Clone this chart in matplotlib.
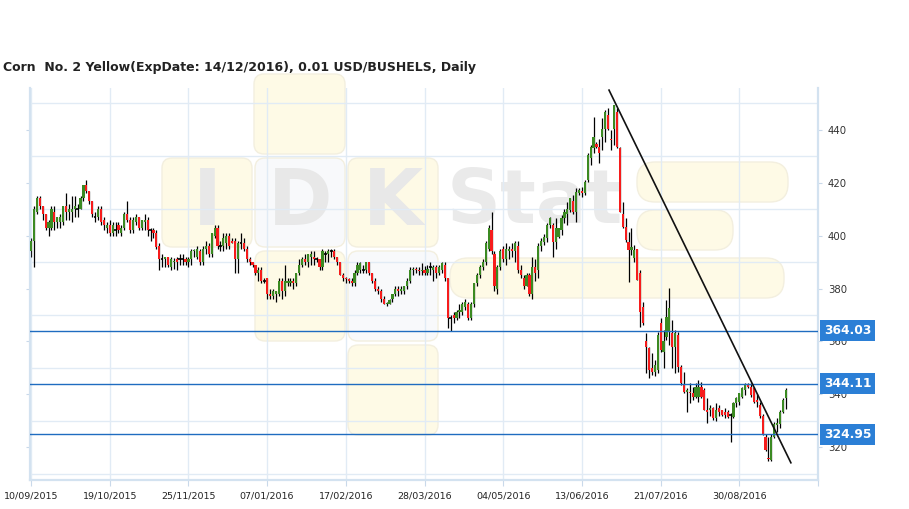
import numpy as np
import matplotlib.pyplot as plt
from matplotlib.patches import FancyBboxPatch

title = "Corn  No. 2 Yellow(ExpDate: 14/12/2016), 0.01 USD/BUSHELS, Daily"
date_labels = ["10/09/2015", "19/10/2015", "25/11/2015", "07/01/2016", "17/02/2016",
               "28/03/2016", "04/05/2016", "13/06/2016", "21/07/2016", "30/08/2016"]
bars_per_label = 27

# daily candles
opens = [394, 398, 409, 414, 411, 408, 403, 403, 409, 405,
         405, 405, 411, 409, 409, 410, 410, 410, 414, 419,
         417, 413, 407, 407, 410, 406, 403, 404, 401, 402,
         404, 401, 403, 408, 406, 402, 405, 407, 403, 405,
         406, 402, 402, 401, 396, 391, 391, 392, 388, 390,
         391, 391, 391, 391, 390, 391, 394, 392, 394, 390,
         395, 396, 393, 400, 403, 396, 396, 397, 400, 398,
         398, 391, 397, 397, 395, 391, 390, 389, 386, 387,
         383, 384, 378, 377, 378, 378, 383, 379, 382, 382,
         383, 382, 386, 389, 391, 390, 392, 392, 391, 391,
         388, 393, 393, 394, 394, 392, 390, 385, 384, 383.5,
         383, 382, 386, 387, 387, 387, 390, 386, 383, 380,
         379, 376, 374, 374, 376, 378, 380, 379, 379, 381,
         383, 387, 387.5, 387, 386.5, 387, 386, 388, 387, 388,
         386, 387, 389, 384, 369, 370, 369, 371, 371, 373,
         374, 369, 374, 382, 385, 388, 390, 395, 402, 393,
         380, 388, 395, 391, 394, 395, 394, 396, 387, 384,
         381, 385, 378, 388, 387, 396, 397.6, 399, 404, 404,
         397.6, 399.5, 402, 406.5, 408.3, 409.6, 413, 409, 416, 417,
         415.9, 421, 429.1, 432.9, 434.4, 433.5, 437.3, 440.4, 445.5, 436.6,
         440.4, 446.7, 432.9, 408.3, 403.3, 397.7, 394.5, 391.4, 395.1, 385.7,
         373.2, 360, 357.4, 349.9, 348.6, 349.3, 366.9, 356.2, 361.8, 363.7,
         363.1, 358.1, 362.5, 350.5, 343.6, 341.1, 340.9, 340.4, 339.2, 339.2,
         343, 341.7, 334.2, 334.2, 334.8, 331, 334.8, 334.2, 333.5, 333.5,
         332, 331.6, 336.7, 337, 339.2, 341.7, 343.6, 343, 342.3, 338,
         336, 332, 324, 316, 315.3, 324, 328.5, 329, 333.5, 338.5]
highs = [399, 411, 415, 415, 411, 408, 406, 411, 411, 407,
         408, 411, 416, 412, 415, 415, 412, 415, 419, 421,
         417, 413, 409, 411, 411, 407, 405, 406, 405, 405,
         405, 404, 409, 413, 407, 407, 408, 407, 406, 408,
         407, 403, 403, 402, 397, 393, 392, 392, 392, 391.5,
         392, 393, 393, 392, 392, 395, 395, 396, 395, 396,
         398, 397, 401, 404, 404, 398, 401, 401, 401, 399,
         399, 398, 401, 399, 396, 392, 390, 389, 388, 388,
         384, 384, 380, 380, 379, 384, 384, 389, 384, 384,
         384, 386, 391, 392, 393, 393, 394, 394, 392, 391,
         395, 394, 395, 395, 395, 392, 390, 386, 384.5, 384,
         384, 387, 390, 390, 389, 390, 390, 386, 384, 381,
         380, 377, 375, 376, 378, 381, 381, 381, 381, 384,
         388, 388, 388, 388, 389.5, 388.5, 389, 390, 389, 389,
         389, 390, 390, 384, 370, 371, 372, 374, 375, 376,
         375, 375, 382, 386, 389, 391, 398, 404, 409, 394,
         389, 395, 396, 397, 396, 397, 398, 398, 389, 385,
         386, 386, 392, 391, 397, 399, 400.5, 404.6, 407, 404.6,
         406.5, 403, 407.7, 410.2, 412.7, 414.3, 415.3, 417.8, 417.8, 418.5,
         420.9, 431, 434.1, 444.8, 435.4, 436.6, 444.2, 447.3, 448, 439.8,
         449.2, 448, 433.5, 412.7, 406.5, 401.4, 402.7, 396.4, 395.1, 387,
         375, 363.1, 358.1, 355.6, 353, 363.7, 368.7, 364.4, 375.7, 380.1,
         368.1, 364.4, 363.7, 351.2, 348.6, 342.3, 344.2, 343, 344.2, 345.5,
         344.8, 342.3, 338.6, 336, 335.4, 336.7, 336, 334.2, 334.8, 334.2,
         333, 337.3, 339.2, 340.5, 342.7, 344.2, 344.5, 344.2, 343, 340,
         337, 332.5, 325, 324, 325, 329.7, 331, 334, 338.5, 342.3]
lows = [392, 388, 408, 410, 406, 402, 400, 402, 402, 403,
        403, 404, 406, 406, 405, 407, 407, 410, 413, 416,
        412, 407, 405, 406, 404, 402, 401, 400, 400, 400,
        401, 400, 402, 405, 401, 401, 404, 402, 402, 402,
        400, 398, 399, 395, 387, 388, 388, 388, 387, 387.5,
        387, 389, 389, 389, 388, 389, 392, 391, 389, 389,
        393, 392, 392, 399, 395, 394, 394, 395, 395, 397,
        386, 386, 395, 394, 390, 389, 388, 385, 383, 382,
        382, 376, 376, 376, 375, 377, 376, 377, 381, 381,
        380, 381, 385, 388, 389, 388, 389, 389, 390, 387,
        387, 390, 390, 392, 391, 389, 385, 383, 382, 382,
        381, 381, 385, 386, 386, 386, 385, 382, 379, 378,
        375, 374, 373.5, 374, 375, 377, 377, 378, 378, 380,
        382, 385, 386, 385, 385, 385, 385, 385, 383, 384,
        385, 386, 383, 365, 364, 367, 368, 369, 370, 372,
        368, 368, 373, 381, 384, 387, 389, 394, 393, 379,
        378, 387, 390, 389, 391, 392, 390, 386, 384, 380,
        381, 377, 376, 383, 384, 394, 396.5, 397.6, 403, 392,
        395, 399, 400.2, 404.6, 404, 409, 408.3, 405.2, 415.3, 414.5,
        415.3, 420.3, 426.6, 431, 432.9, 427.2, 432.2, 435.4, 439.8, 432.2,
        434.1, 432.9, 409, 402.7, 397.6, 382.6, 392.6, 390.1, 383.2, 365.6,
        366.3, 348, 346.1, 347.4, 347, 348, 356.2, 349.9, 360.6, 358.7,
        349.9, 348, 348.6, 343.6, 340.5, 333.5, 336.7, 338, 338.6, 337.3,
        338.6, 334.2, 329.1, 331.7, 330.4, 329.8, 331.7, 332, 331, 331,
        322.2, 331, 335.4, 336, 338.6, 339.8, 342.3, 339, 336.7, 335.4,
        331, 324.7, 318.5, 315, 315, 323.5, 326, 327.5, 333, 334.5]
closes = [398, 410, 414, 411, 408, 403, 405, 410, 405, 407,
          407, 411, 409, 410, 410, 411, 410, 414, 419, 417,
          413, 408, 407, 410, 405, 404, 404, 401, 404, 402,
          402, 403, 408, 406, 402, 406, 407, 403, 406, 406,
          402, 402, 401, 395.5, 391, 391, 392, 389, 391, 390.5,
          390, 391, 391, 390, 391, 394, 394.5, 395, 390, 395,
          396, 393, 401, 403, 396, 396, 399, 400, 396, 397,
          391, 397, 397, 395, 391, 390, 389, 386, 387, 383,
          383, 378, 377, 379, 379, 383, 379, 383, 383, 383,
          382, 386, 389, 391, 390, 393, 393, 391, 391, 388,
          394, 393, 394, 394, 392, 390, 385, 384, 383.5, 383,
          382, 386, 389, 389.5, 387, 390, 386, 383, 380, 379,
          376, 374, 374.5, 375.5, 378, 380, 379, 380, 381, 383,
          387, 387.5, 387, 386.5, 387, 386, 387.5, 388, 388, 386,
          388, 389.5, 384, 369, 369, 369, 371, 372, 374, 375,
          369, 374, 382, 385, 388, 390, 397, 403, 394, 381,
          388, 394, 391, 395, 395, 394, 397, 387, 385, 381,
          385, 378, 388, 386, 396, 398, 399.5, 404, 406.5, 397.6,
          402.7, 402.7, 406.5, 409, 410.2, 414, 409, 416.5, 417.2, 416,
          420.3, 430.4, 433.5, 437.3, 433.5, 431, 440.4, 446.7, 440.4, 436,
          449.2, 433.5, 409, 403.3, 398.3, 394.5, 395.5, 394.5, 383.2, 371.3,
          366.9, 358.1, 349.3, 348.6, 351, 362.5, 356.8, 360, 369.4, 372.5,
          358.1, 363.1, 350.5, 344.2, 341.1, 341.7, 340.4, 339.2, 343, 343,
          338.9, 334.2, 333.5, 335, 331, 334.2, 333.5, 332.3, 332.3, 331.6,
          332.2, 336.7, 338.6, 340.4, 342.3, 343.6, 343, 339.8, 337.3, 337,
          332, 325, 319, 315.5, 324, 329, 329.3, 333.5, 338, 341.7]

levels = [364.03, 344.11, 324.95]
# hand drawn trend line (bar index, price)
trend_x = [198.3, 260.7]
trend_y = [454.9, 314.2]

W, H = 909, 509
fig = plt.figure(figsize=(W / 100, H / 100), dpi=100)

# ---- faint IDK Stat watermark, in pixel coords ----
bg = fig.add_axes([0, 0, 1, 1], zorder=0)
bg.set_xlim(0, W)
bg.set_ylim(H, 0)
bg.axis('off')

def wm_box(x0, y0, x1, y1, fc, r=10):
  bg.add_patch(FancyBboxPatch((x0 + r, y0 + r), x1 - x0 - 2 * r, y1 - y0 - 2 * r,
                              boxstyle='round,pad=%d' % r, fc=fc, ec='#f3efdf', lw=1))

yel, wht = '#fefae6', '#f8f9fb'
wm_box(254, 74, 345, 154, yel)
wm_box(162, 158, 252, 247, yel)
wm_box(255, 158, 345, 247, wht)
wm_box(348, 158, 438, 247, yel)
wm_box(255, 251, 345, 341, yel)
wm_box(348, 251, 438, 341, wht)
wm_box(348, 345, 438, 435, yel)
wm_box(637, 162, 788, 202, yel, r=18)
wm_box(637, 210, 733, 250, yel, r=18)
wm_box(450, 258, 784, 298, yel, r=18)
for ch, cx in zip("IDK", [207, 300, 393]):
  bg.text(cx, 203, ch, fontsize=56, fontweight='bold', color='#e8e8e8',
          ha='center', va='center')
bg.text(535, 203, "Stat", fontsize=54, fontweight='bold', color='#eaeaea',
        ha='center', va='center')

# ---- price chart ----
ax = fig.add_axes([30 / W, 1 - 480 / H, 788 / W, 392 / H], zorder=1)
ax.patch.set_alpha(0)

o, h, l, c = map(np.array, (opens, highs, lows, closes))
idx = np.arange(len(o))
up = c > o + 0.3
dn = c < o - 0.3
flat = ~(up | dn)

ax.vlines(idx, l, h, color='k', lw=0.9, zorder=2)
ax.bar(idx[up], (c - o)[up], 0.75, bottom=o[up], color='#3b8a22', zorder=3)
ax.bar(idx[dn], (o - c)[dn], 0.75, bottom=c[dn], color='#f61c1c', zorder=3)
ax.hlines(c[flat], idx[flat] - 0.45, idx[flat] + 0.45, color='k', lw=1.2, zorder=3)

for lv in levels:
  ax.axhline(lv, color='#1f6cc0', lw=1, zorder=5)
  ax.annotate('%.2f' % lv, xy=(1, lv), xycoords=('axes fraction', 'data'),
              xytext=(6, 0), textcoords='offset pixels', ha='left', va='center',
              fontsize=8.8, fontweight='bold', color='white', annotation_clip=False,
              bbox=dict(boxstyle='square,pad=0.32', fc='#2b7fd6', ec='none'))

ax.plot(trend_x, trend_y, color='#111111', lw=1.2, zorder=6, clip_on=False)

ax.set_xlim(-0.35, 270)
ax.set_ylim(307.7, 455.7)

xt = np.arange(0, 271, bars_per_label)
ax.set_xticks(xt)
ax.set_xticklabels(date_labels + [''] * (len(xt) - len(date_labels)))
ax.set_yticks(np.arange(320, 441, 20))
ax.set_yticks(np.arange(310, 451, 20), minor=True)

gridc = '#e1ebf5'
ax.grid(True, axis='x', color=gridc, lw=1)
ax.grid(True, axis='y', which='minor', color=gridc, lw=1)
ax.set_axisbelow(True)

ax.tick_params(axis='y', which='major', left=True, right=True, labelleft=False,
               labelright=True, length=3, color='#c9d9ea', labelsize=7.3,
               labelcolor='#333333', pad=4)
ax.tick_params(axis='y', which='minor', length=0)
ax.tick_params(axis='x', length=4, color='#c9d9ea', labelsize=6.8,
               labelcolor='#222222', pad=4)

ax.spines['top'].set_visible(False)
for s in ('left', 'right', 'bottom'):
  ax.spines[s].set_color('#d3e2f0')
  ax.spines[s].set_linewidth(1.6)

fig.text(3 / W, 1 - 68 / H, title, fontsize=9.0, fontweight='bold',
         color='#222222', va='center', ha='left')

fig.savefig('out.png', dpi=100)
